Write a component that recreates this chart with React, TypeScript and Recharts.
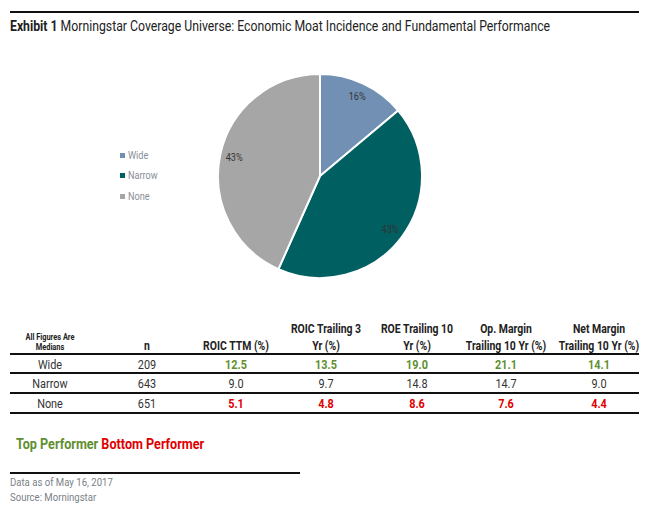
import React from 'react';
import { PieChart, Pie, Cell, Legend } from 'recharts';

const MOAT = ['Wide', 'Narrow', 'None'];
const COUNT = [209, 643, 651];
const SHARE_LABEL = ['16%', '43%', '43%'];
const COLORS = ['#7190b4', '#005f61', '#a6a6a6'];

const HEADERS = [
  ['All Figures Are', 'Medians'],
  ['n'],
  ['ROIC TTM (%)'],
  ['ROIC Trailing 3', 'Yr (%)'],
  ['ROE Trailing 10', 'Yr (%)'],
  ['Op. Margin', 'Trailing 10 Yr (%)'],
  ['Net Margin', 'Trailing 10 Yr (%)'],
];
const ROIC_TTM = ['12.5', '9.0', '5.1'];
const ROIC_3YR = ['13.5', '9.7', '4.8'];
const ROE_10YR = ['19.0', '14.8', '8.6'];
const OP_MARGIN = ['21.1', '14.7', '7.6'];
const NET_MARGIN = ['14.1', '9.0', '4.4'];
const ROW_TONE = ['top', 'mid', 'bottom'];

const FONT = 'Roboto, "Liberation Sans", sans-serif';
const SQUEEZE = 0.87;
const GREEN = '#5f8f2f';
const RED = '#e00000';
const COL_X = [50, 147, 236, 326, 417, 506, 599];
const ROW_Y = [365, 384, 404];
const LINE_Y = [354, 373, 393, 413];

const pieData = MOAT.map((name, i) => ({ name, value: COUNT[i], label: SHARE_LABEL[i] }));

const RAD = Math.PI / 180;
const renderLabel = (p: any) => {
  const r = p.outerRadius * 0.86;
  const x = p.cx + r * Math.cos(-p.midAngle * RAD);
  const y = p.cy + r * Math.sin(-p.midAngle * RAD);
  return (
    <text
      x={x}
      y={y}
      fill="#333"
      fontSize={10.5}
      fontFamily={FONT}
      textAnchor="middle"
      dominantBaseline="central"
      transform={`translate(${x} ${y}) scale(${SQUEEZE} 1) translate(${-x} ${-y})`}
    >
      {p.payload.label}
    </text>
  );
};

const LegendBox = () => (
  <div style={{ fontFamily: FONT, fontSize: 10.5, color: '#8a8f99' }}>
    {MOAT.map((m, i) => (
      <div key={m} style={{ display: 'flex', alignItems: 'center', height: 20.5 }}>
        <span style={{ width: 5, height: 5, background: COLORS[i], marginRight: 3 }} />
        <span style={{ display: 'inline-block', transform: `scaleX(${SQUEEZE})`, transformOrigin: 'left center' }}>{m}</span>
      </div>
    ))}
  </div>
);

const hline = (y: number, x1: number, x2: number, key?: string) => (
  <div key={key} style={{ position: 'absolute', left: x1, top: y - 1, width: x2 - x1, height: 2, background: '#111' }} />
);

const cell = (text: string, x: number, y: number, style: React.CSSProperties, key: string) => (
  <div
    key={key}
    style={{
      position: 'absolute',
      left: x - 70,
      width: 140,
      top: y - 8,
      height: 16,
      lineHeight: '16px',
      textAlign: 'center',
      whiteSpace: 'nowrap',
      transform: `scaleX(${SQUEEZE})`,
      ...style,
    }}
  >
    {text}
  </div>
);

export default function App() {
  const metricCols = [ROIC_TTM, ROIC_3YR, ROE_10YR, OP_MARGIN, NET_MARGIN];
  const headStyle: React.CSSProperties = { fontSize: 12, fontWeight: 700, color: '#222' };
  const smallHead: React.CSSProperties = { fontSize: 8.5, fontWeight: 700, color: '#222' };
  return (
    <div style={{ position: 'absolute', left: 0, top: 0, width: 648, height: 508, background: '#fff', fontFamily: FONT, overflow: 'hidden' }}>
      {hline(12, 10, 639)}
      <div
        style={{
          position: 'absolute',
          left: 10,
          top: 18,
          fontSize: 14,
          color: '#222',
          whiteSpace: 'nowrap',
          transform: `scaleX(0.875)`,
          transformOrigin: 'left center',
        }}
      >
        <b>Exhibit 1</b> Morningstar Coverage Universe: Economic Moat Incidence and Fundamental Performance
      </div>

      <div style={{ position: 'absolute', left: 0, top: 40 }}>
        <PieChart width={648} height={260}>
          <Pie
            data={pieData}
            dataKey="value"
            cx={315}
            cy={131}
            outerRadius={102}
            startAngle={90}
            endAngle={-270}
            stroke="#fff"
            strokeWidth={2}
            label={renderLabel}
            labelLine={false}
            isAnimationActive={false}
          >
            {pieData.map((d, i) => (
              <Cell key={d.name} fill={COLORS[i]} />
            ))}
          </Pie>
          <Legend
            layout="vertical"
            content={<LegendBox />}
            wrapperStyle={{ left: 120, top: 105, width: 80 }}
          />
        </PieChart>
      </div>

      {HEADERS.map((h, i) =>
        h.length === 2 && i === 0 ? (
          <React.Fragment key={'h' + i}>
            {cell(h[0], COL_X[i], 337, smallHead, 'h0a')}
            {cell(h[1], COL_X[i], 347, smallHead, 'h0b')}
          </React.Fragment>
        ) : h.length === 2 ? (
          <React.Fragment key={'h' + i}>
            {cell(h[0], COL_X[i], 329, headStyle, 'ha' + i)}
            {cell(h[1], COL_X[i], 346, headStyle, 'hb' + i)}
          </React.Fragment>
        ) : (
          cell(h[0], COL_X[i], 346, headStyle, 'h' + i)
        )
      )}

      {MOAT.map((m, r) => {
        const tone = ROW_TONE[r];
        const valStyle: React.CSSProperties =
          tone === 'top'
            ? { color: GREEN, fontWeight: 700 }
            : tone === 'bottom'
            ? { color: RED, fontWeight: 700 }
            : { color: '#333' };
        return (
          <React.Fragment key={m}>
            {cell(m, COL_X[0], ROW_Y[r], { fontSize: 12.5, color: '#333' }, m + 'n')}
            {cell(String(COUNT[r]), COL_X[1], ROW_Y[r], { fontSize: 12.5, color: '#333' }, m + 'c')}
            {metricCols.map((col, c) =>
              cell(col[r], COL_X[c + 2], ROW_Y[r], { fontSize: 12.5, ...valStyle }, m + 'v' + c)
            )}
          </React.Fragment>
        );
      })}
      {LINE_Y.map((y, i) => hline(y, 10, 639, 'l' + i))}

      <div
        style={{
          position: 'absolute',
          left: 16,
          top: 436,
          fontSize: 14,
          fontWeight: 700,
          whiteSpace: 'nowrap',
          transform: `scaleX(0.9)`,
          transformOrigin: 'left center',
        }}
      >
        <span style={{ color: GREEN }}>Top Performer</span> <span style={{ color: RED }}>Bottom Performer</span>
      </div>

      {hline(473, 10, 300)}
      <div
        style={{
          position: 'absolute',
          left: 10,
          top: 476,
          fontSize: 11,
          color: '#7a7f88',
          lineHeight: '14.5px',
          whiteSpace: 'nowrap',
          transform: `scaleX(${SQUEEZE})`,
          transformOrigin: 'left center',
        }}
      >
        <div>Data as of May 16, 2017</div>
        <div>Source: Morningstar</div>
      </div>
    </div>
  );
}
